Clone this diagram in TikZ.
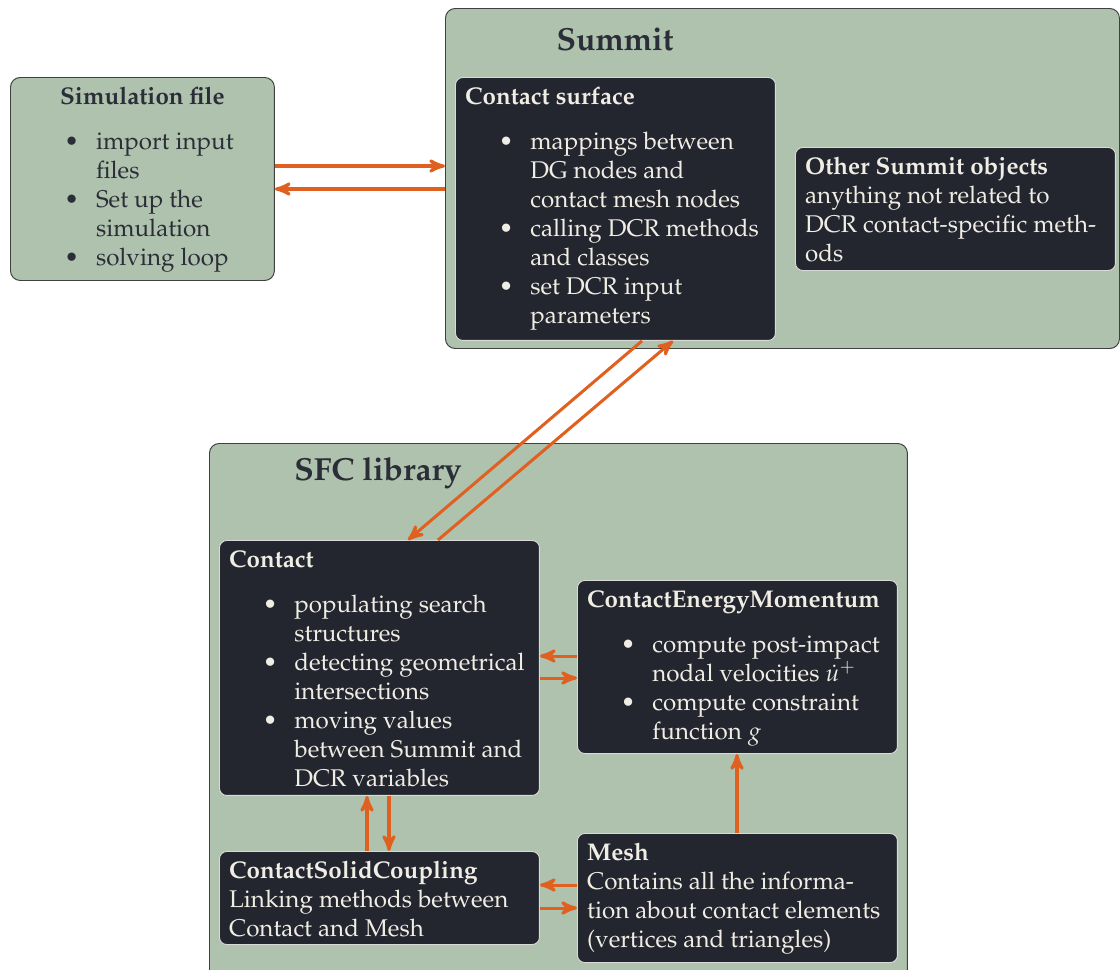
\documentclass[tikz,border=0pt]{standalone}
\usepackage[T1]{fontenc}
\usepackage{mathpazo}
\usepackage[usenames,dvipsnames]{xcolor}
\usepackage{tikz}
\usetikzlibrary{arrows}

\newcommand{\bx}[3]{\parbox[t][#2][t]{#1}{\raggedright #3}}
\newcommand{\bul}[1]{\makebox[#1][r]{\textbullet\hspace{7pt}}}

\begin{document}
\begin{tikzpicture}[x=0.4138pt,y=-0.4138pt,
  outerBox/.style={draw=black!75,fill=sageColor,rounded corners=4pt,anchor=north west,inner sep=0pt},
  darkBox/.style={draw=white!85!black,fill=boxColor,text=lightText,rounded corners=3pt,anchor=north west,inner sep=4pt},
  titleText/.style={text=darkText,font=\fontsize{13.2}{16}\selectfont\bfseries},
  flow/.style={->,>=stealth',line width=1.25pt,color=arrColor}]
\definecolor{sageColor}{RGB}{174,194,173}
\definecolor{boxColor}{RGB}{35,37,47}
\definecolor{darkText}{RGB}{43,45,56}
\definecolor{lightText}{RGB}{240,237,228}
\definecolor{arrColor}{RGB}{224,96,32}
\useasboundingbox (0,0) rectangle (1120,969);
\node[outerBox,text=darkText,inner sep=4pt] (sim) at (10,77) {\bx{101.2pt}{76pt}{%
  {\centering\textbf{Simulation file}\par}\vspace{6.6pt}%
  \bul{31.4pt}import input\\ \hspace*{31.4pt}files\\
  \bul{31.4pt}Set up the\\ \hspace*{31.4pt}simulation\\
  \bul{31.4pt}solving loop}};
\node[outerBox,minimum width=278.9pt,minimum height=140.7pt] (summit) at (445,8) {};
\node[titleText] (summitTitle) at (615,40) {Summit};
\node[darkBox] (surf) at (455,77) {\bx{124.4pt}{100.8pt}{%
  \textbf{Contact surface}\\[6.6pt]
  \bul{27pt}mappings between\\ \hspace*{27pt}DG nodes and\\ \hspace*{27pt}contact mesh nodes\\
  \bul{27pt}calling DCR methods\\ \hspace*{27pt}and classes\\
  \bul{27pt}set DCR input\\ \hspace*{27pt}parameters}};
\node[darkBox] (other) at (795,147) {\bx{124.4pt}{42.9pt}{%
  \textbf{Other Summit objects}\\
  anything not related to\\ DCR contact-specific meth-\\ ods}};
\node[outerBox,minimum width=288.8pt,minimum height=222.2pt] (sfc) at (209,443) {};
\node[titleText] (sfcTitle) at (378,473) {SFC library};
\node[darkBox] (contact) at (219,540) {\bx{124.4pt}{97.5pt}{%
  \textbf{Contact}\\[6.6pt]
  \bul{27pt}populating search\\ \hspace*{27pt}structures\\
  \bul{27pt}detecting geometrical\\ \hspace*{27pt}intersections\\
  \bul{27pt}moving values\\ \hspace*{27pt}between Summit and\\ \hspace*{27pt}DCR variables}};
\node[darkBox] (cem) at (577,580) {\bx{124.4pt}{63.6pt}{%
  \textbf{ContactEnergyMomentum}\\[6.6pt]
  \bul{27pt}compute post-impact\\ \hspace*{27pt}nodal velocities $\dot{u}^+$\\
  \bul{27pt}compute constraint\\ \hspace*{27pt}function $g$}};
\node[darkBox] (csc) at (219,851) {\bx{124.4pt}{30.5pt}{%
  \textbf{ContactSolidCoupling}\\
  Linking methods between\\ Contact and Mesh}};
\node[darkBox] (mesh) at (577,833) {\bx{124.4pt}{45.4pt}{%
  \textbf{Mesh}\\
  Contains all the informa-\\ tion about contact elements\\ (vertices and triangles)}};
\draw[flow] (sim.east |- 0,166) -- (summit.west |- 0,166);
\draw[flow] (summit.west |- 0,189) -- (sim.east |- 0,189);
\draw[flow] (642,0 |- surf.south) -- (408,0 |- contact.north);
\draw[flow] (438,0 |- contact.north) -- (673,0 |- surf.south);
\draw[flow] (cem.west |- 0,656) -- (contact.east |- 0,656);
\draw[flow] (contact.east |- 0,678) -- (cem.west |- 0,678);
\draw[flow] (367,0 |- csc.north) -- (367,0 |- contact.south);
\draw[flow] (389,0 |- contact.south) -- (389,0 |- csc.north);
\draw[flow] (mesh.west |- 0,885) -- (csc.east |- 0,885);
\draw[flow] (csc.east |- 0,908) -- (mesh.west |- 0,908);
\draw[flow] (737,0 |- mesh.north) -- (737,0 |- cem.south);
\end{tikzpicture}
\end{document}
